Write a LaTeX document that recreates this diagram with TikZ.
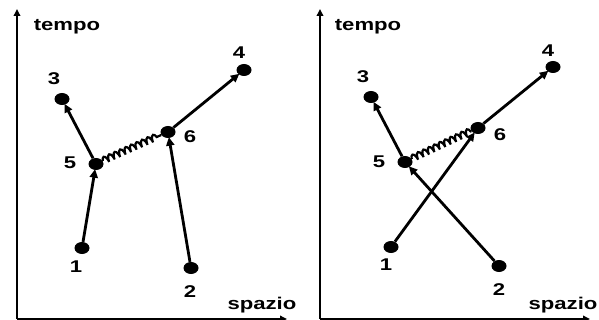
\documentclass[tikz,border=0pt]{standalone}
\usepackage{fontspec}
\setmainfont{Liberation Sans}
\usepackage{tikz}
\usetikzlibrary{arrows.meta,positioning,shapes.geometric,decorations.pathmorphing}

\begin{document}
\begin{tikzpicture}[
  x=1pt,y=-1pt,
  dot/.style={ellipse,fill=black,inner sep=0pt,minimum width=15pt,minimum height=12pt},
  lbl/.style={font=\fontsize{17}{18}\selectfont\bfseries,xscale=1.3,inner sep=0pt},
  arr/.style={-{Triangle[length=8.5pt,width=8pt]},line width=2.8pt,shorten >=-1pt},
  axis/.style={-{Triangle[length=7pt,width=6.5pt]},line width=2.2pt},
  spring/.style={line width=2.2pt,decorate,decoration={coil,aspect=0.3,segment length=6pt,amplitude=3.5pt}}
]
\useasboundingbox (0,0) rectangle (599,320);
% left panel
\coordinate (oL) at (17,319);
\coordinate (tL) at (17,9);
\coordinate (sL) at (287,319);
\draw[axis] (oL) -- (tL);
\draw[axis] (oL) -- (sL);
\node[lbl] (tempoL) at (67,27) {tempo};
\node[lbl] (spazioL) at (262,305) {spazio};
\node[dot] (a1) at (82,248) {};
\node[dot] (a2) at (191,268) {};
\node[dot] (a3) at (62,99) {};
\node[dot] (a4) at (244,70) {};
\node[dot] (a5) at (96,164) {};
\node[dot] (a6) at (168,132) {};
\node[lbl] (a1t) at (76,267) {1};
\node[lbl] (a2t) at (190,292) {2};
\node[lbl] (a3t) at (54,79) {3};
\node[lbl] (a4t) at (239,53) {4};
\node[lbl] (a5t) at (70,163) {5};
\node[lbl] (a6t) at (190,137) {6};
\draw[arr] (a1) -- (a5);
\draw[arr] (a2) -- (a6);
\draw[arr] (a5) -- (a3);
\draw[arr] (a6) -- (a4);
\draw[spring] (a5) -- (a6);
% right panel
\coordinate (oR) at (320,319);
\coordinate (tR) at (320,9);
\coordinate (sR) at (590,319);
\draw[axis] (oR) -- (tR);
\draw[axis] (oR) -- (sR);
\node[lbl] (tempoR) at (368,27) {tempo};
\node[lbl] (spazioR) at (563,305) {spazio};
\node[dot] (b1) at (391,247) {};
\node[dot] (b2) at (499,266) {};
\node[dot] (b3) at (371,97) {};
\node[dot] (b4) at (553,67) {};
\node[dot] (b5) at (405,162) {};
\node[dot] (b6) at (478,128) {};
\node[lbl] (b1t) at (386,265) {1};
\node[lbl] (b2t) at (499,290) {2};
\node[lbl] (b3t) at (363,77) {3};
\node[lbl] (b4t) at (548,51) {4};
\node[lbl] (b5t) at (379,162) {5};
\node[lbl] (b6t) at (500,135) {6};
\draw[arr] (b1) -- (b6);
\draw[arr] (b2) -- (b5);
\draw[arr] (b5) -- (b3);
\draw[arr] (b6) -- (b4);
\draw[spring] (b5) -- (b6);
\end{tikzpicture}
\end{document}
